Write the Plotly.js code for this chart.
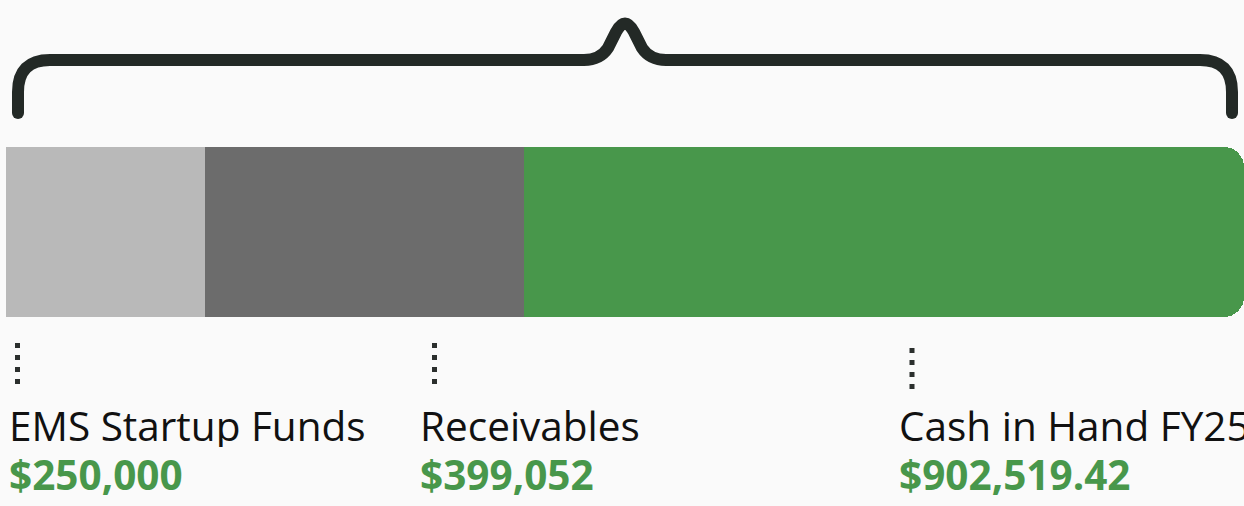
<!DOCTYPE html>
<html>
<head>
<meta charset="utf-8">
<script src="https://cdn.plot.ly/plotly-3.0.1.min.js"></script>
<style>
html,body{margin:0;padding:0;background:#fafafa;}
#chart{width:1244px;height:506px;}
</style>
</head>
<body>
<div id="chart"></div>
<script>
// ---- data ----
const categories = ["EMS Startup Funds", "Receivables", "Cash in Hand FY25"];
const amounts = [250000, 399052, 902519.42];
const valueLabels = ["$250,000", "$399,052", "$902,519.42"];
const colors = ["#b9b9b9", "#6c6c6c", "#48974b"];

// ---- layout helpers ----
const W = 1244, H = 506, ML = 6, MR = 0;
const PW = W - ML - MR;
const px = x => (x - ML) / PW;      // pixel x -> paper
const py = y => 1 - y / H;          // pixel y -> paper
const total = amounts.reduce((a, b) => a + b, 0);

const traces = categories.map((c, i) => ({
  type: "bar",
  orientation: "h",
  name: c,
  x: [amounts[i]],
  y: ["funds"],
  width: 1,
  marker: {color: colors[i], line: {width: 0}},
  hoverinfo: "skip",
  showlegend: false
}));

// brace path (pixel coords converted to paper)
function P(x, y) { return px(x).toFixed(5) + "," + py(y).toFixed(5); }
const brace = "M" + P(18, 113) + " L" + P(18, 92) + " Q" + P(18, 60) + " " + P(50, 60) +
  " L" + P(584, 60) + " Q" + P(600, 60) + " " + P(608, 48) +
  " L" + P(616, 32) + " Q" + P(625, 15) + " " + P(634, 32) +
  " L" + P(642, 48) + " Q" + P(650, 60) + " " + P(666, 60) +
  " L" + P(1200, 60) + " Q" + P(1232, 60) + " " + P(1232, 92) + " L" + P(1232, 113);

const shapes = [
  {type: "path", xref: "paper", yref: "paper", path: brace, line: {color: "#232926", width: 12}},
  {type: "circle", xref: "paper", yref: "paper", x0: px(12), x1: px(24), y0: py(107), y1: py(119), fillcolor: "#232926", line: {width: 0}},
  {type: "circle", xref: "paper", yref: "paper", x0: px(1226), x1: px(1238), y0: py(107), y1: py(119), fillcolor: "#232926", line: {width: 0}}
];

const labelX = [7, 418, 897];
const dotX = [17.5, 434.5, 912];
const dotY0 = [343, 343, 348];
dotX.forEach((x, i) => {
  shapes.push({type: "line", xref: "paper", yref: "paper", x0: px(x), x1: px(x),
    y0: py(dotY0[i]), y1: py(dotY0[i] + 41), line: {color: "#2b2f2d", width: 5, dash: "5px,7px"}});
});

const annotations = [];
categories.forEach((c, i) => {
  annotations.push({xref: "paper", yref: "paper", x: px(labelX[i]), y: py(425), xanchor: "left", yanchor: "middle",
    height: 44, valign: "middle",
    text: c, showarrow: false, font: {family: "Open Sans", size: 40.5, color: "#111111"}});
  annotations.push({xref: "paper", yref: "paper", x: px(labelX[i]), y: py(474), xanchor: "left", yanchor: "middle",
    height: 44, valign: "middle",
    text: "<b>" + valueLabels[i] + "</b>", showarrow: false, font: {family: "Open Sans", size: 40.5, color: "#48974b"}});
});

// y range so that the bar sits between pixel 147 and 317
const barTop = 147, barBot = 317, bh = barBot - barTop;
const yTop = 0.5 + barTop / bh;
const yBot = 0.5 - (H - barTop) / bh;

const layout = {
  width: W, height: H,
  margin: {l: ML, r: MR, t: 0, b: 0, pad: 0},
  paper_bgcolor: "#fafafa",
  plot_bgcolor: "rgba(0,0,0,0)",
  barmode: "stack",
  barcornerradius: 20,
  xaxis: {range: [0, total], visible: false, fixedrange: true},
  yaxis: {type: "category", range: [yBot, yTop], visible: false, fixedrange: true},
  shapes: shapes,
  annotations: annotations,
  font: {family: "Open Sans"}
};

Plotly.newPlot("chart", traces, layout, {staticPlot: true, displayModeBar: false});
</script>
</body>
</html>
